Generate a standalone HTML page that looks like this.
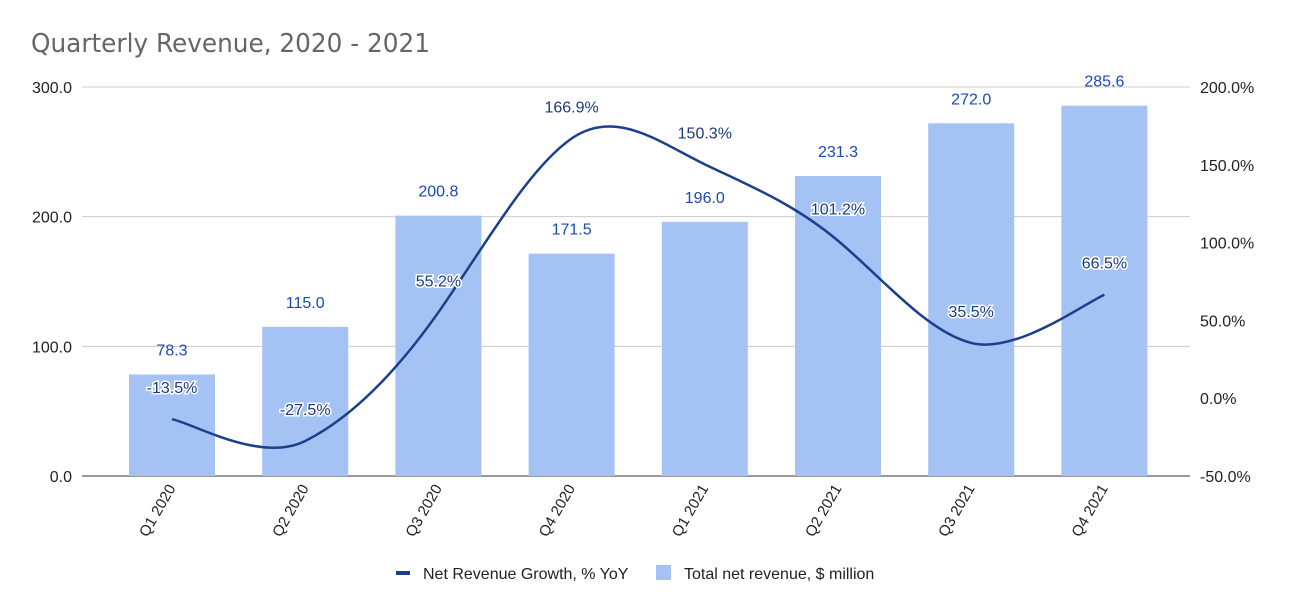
<!DOCTYPE html>
<html><head><meta charset="utf-8"><style>
body{margin:0;background:#fff;}
svg{display:block;font-family:"Liberation Sans",Arial,sans-serif;}
</style></head><body>
<svg id="chart" width="1292" height="612">
<text x="31" y="52" font-size="26" textLength="399" lengthAdjust="spacingAndGlyphs" fill="#666" font-family="DejaVu Sans,Liberation Sans,sans-serif">Quarterly Revenue, 2020 - 2021</text>
<g id="grid"></g><g id="bars"></g><g id="line"></g><g id="labels"></g>
<g>
<rect x="396" y="571" width="14" height="4" fill="#1c3f8a"/>
<text x="423" y="579" font-size="16" fill="#222">Net Revenue Growth, % YoY</text>
<rect x="656" y="565" width="15" height="15" fill="#a4c2f4"/>
<text x="684" y="579" font-size="16" fill="#222">Total net revenue, $ million</text>
</g>
</svg>
<script>
const categories=["Q1 2020","Q2 2020","Q3 2020","Q4 2020","Q1 2021","Q2 2021","Q3 2021","Q4 2021"];
const revenue=[78.3,115.0,200.8,171.5,196.0,231.3,272.0,285.6];
const growth=[-13.5,-27.5,55.2,166.9,150.3,101.2,35.5,66.5];
const leftTicks=[0,100,200,300];
const rightTicks=[-50,0,50,100,150,200];
const NS="http://www.w3.org/2000/svg";
const yL=v=>476-v*(389/300);
const yR=v=>476-(v+50)*(389/250);
const xC=i=>172+i*133.2;
function mk(tag,attrs,parent,text){const e=document.createElementNS(NS,tag);for(const k in attrs)e.setAttribute(k,attrs[k]);if(text!==undefined)e.textContent=text;document.getElementById(parent).appendChild(e);return e;}
leftTicks.forEach(v=>{
 const l=mk("line",{x1:82,x2:1190,y1:yL(v),y2:yL(v),stroke:v===0?"#333":"#ccc","stroke-width":1},"grid");
 
 
 const t=mk("text",{x:72,y:yL(v)+6,"text-anchor":"end","font-size":16,fill:"#222"},"grid",v.toFixed(1));
 
 
});
rightTicks.forEach(v=>{
 const t=mk("text",{x:1200,y:yR(v)+6,"font-size":16,fill:"#222"},"grid",v.toFixed(1)+"%");
 
 
});
categories.forEach((c,i)=>{
 const b=mk("rect",{x:xC(i)-43,y:yL(revenue[i]),width:86,height:476-yL(revenue[i]),fill:"#a4c2f4"},"bars");
 
 
 const vl=mk("text",{x:xC(i),y:yL(revenue[i])-19,"text-anchor":"middle","font-size":16,fill:"#1a49b8"},"labels",revenue[i].toFixed(1));
 
 
 const x=xC(i)+4,y=488;
 const cl=mk("text",{x:x,y:y,"text-anchor":"end","font-size":15,fill:"#222",transform:`rotate(-60 ${x} ${y})`},"labels",c);
 
 
});
const pts=growth.map((g,i)=>[xC(i),yR(g)]);
let d=`M${pts[0][0]},${pts[0][1]}`;
const t=0.5;
for(let i=0;i<pts.length-1;i++){
 const p0=pts[Math.max(0,i-1)],p1=pts[i],p2=pts[i+1],p3=pts[Math.min(pts.length-1,i+2)];
 const c1=[p1[0]+(p2[0]-p0[0])*t/3,p1[1]+(p2[1]-p0[1])*t/3*1.25];
 const c2=[p2[0]-(p3[0]-p1[0])*t/3,p2[1]-(p3[1]-p1[1])*t/3*1.25];
 d+=` C${c1[0]},${c1[1]} ${c2[0]},${c2[1]} ${p2[0]},${p2[1]}`;
}
const path=mk("path",{d:d,fill:"none",stroke:"#1c3f8a","stroke-width":2.5},"line");


growth.forEach((g,i)=>{
 const gl=mk("text",{x:xC(i),y:yR(g)-26,"text-anchor":"middle","font-size":16,fill:"#1c3a7a",stroke:"#fff","stroke-width":3,"paint-order":"stroke"},"labels",g.toFixed(1)+"%");
 
 
});
</script>
</body></html>
